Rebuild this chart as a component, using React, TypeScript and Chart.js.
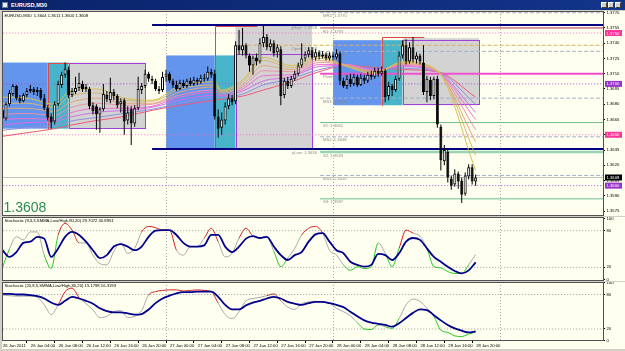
import React, { useEffect, useRef } from 'react';
import { Chart, registerables } from 'chart.js';

Chart.register(...registerables);

// ---------------- data ----------------
const symbolTitle = 'EURUSD,M30';
const firstBarIndex = 1; // bar 0 = 26 Jan 00:00, one bar = 30 min

const opens = [
  1.3674,1.3666,1.3680,1.3690,1.3698,1.3686,1.3683,1.3689,1.3693,1.3695,
  1.3692,1.3694,1.3686,1.3676,1.3668,1.3663,1.3680,1.3699,1.3709,1.3714,
  1.3689,1.3692,1.3696,1.3700,1.3695,1.3695,1.3679,1.3678,1.3670,1.3675,
  1.3689,1.3684,1.3692,1.3688,1.3680,1.3684,1.3664,1.3675,1.3661,1.3676,
  1.3694,1.3698,1.3710,1.3705,1.3703,1.3695,1.3694,
  1.3707,1.3710,1.3703,1.3699,1.3695,1.3701,1.3698,1.3703,1.3700,1.3704,
  1.3702,1.3706,1.3705,1.3712,1.3710,1.3668,1.3657,1.3664,1.3678,1.3686,
  1.3683,1.3738,1.3733,1.3738,1.3728,1.3718,1.3726,1.3722,1.3740,1.3746,
  1.3736,1.3740,1.3731,1.3734,1.3689,1.3703,1.3698,1.3705,1.3710,1.3718,
  1.3725,1.3729,1.3733,1.3726,1.3731,1.3727,1.3729,1.3725,
  1.3728,1.3726,1.3730,1.3703,1.3698,1.3705,1.3700,1.3707,1.3699,1.3706,
  1.3703,1.3709,1.3707,1.3713,1.3710,1.3713,1.3688,1.3698,1.3694,1.3705,
  1.3728,1.3738,1.3722,1.3736,1.3724,1.3728,1.3721,1.3692,1.3704,1.3688,
  1.3705,1.3658,1.3624,1.3633,1.3607,1.3601,1.3612,1.3605,1.3592,1.3609,
  1.3618,1.3604,
];
const highs = [
  1.3677,1.3682,1.3694,1.3700,1.3699,1.3689,1.3691,1.3696,1.3699,1.3697,
  1.3697,1.3696,1.3690,1.3679,1.3671,1.3683,1.3703,1.3712,1.3721,1.3717,
  1.3696,1.3707,1.3711,1.3703,1.3700,1.3697,1.3682,1.3680,1.3677,1.3700,
  1.3693,1.3706,1.3695,1.3690,1.3686,1.3686,1.3678,1.3678,1.3679,1.3707,
  1.3701,1.3714,1.3712,1.3708,1.3705,1.3698,1.3712,
  1.3714,1.3712,1.3705,1.3703,1.3704,1.3704,1.3705,1.3706,1.3707,1.3706,
  1.3709,1.3710,1.3717,1.3715,1.3714,1.3675,1.3672,1.3682,1.3690,1.3689,
  1.3742,1.3753,1.3755,1.3740,1.3730,1.3728,1.3730,1.3745,1.3758,1.3749,
  1.3744,1.3743,1.3739,1.3737,1.3706,1.3707,1.3708,1.3713,1.3721,1.3740,
  1.3732,1.3736,1.3736,1.3734,1.3733,1.3732,1.3731,1.3731,
  1.3731,1.3734,1.3732,1.3706,1.3709,1.3710,1.3710,1.3709,1.3710,1.3709,
  1.3712,1.3713,1.3716,1.3716,1.3717,1.3715,1.3702,1.3700,1.3708,1.3732,
  1.3743,1.3744,1.3741,1.3746,1.3731,1.3730,1.3738,1.3708,1.3707,1.3707,
  1.3708,1.3660,1.3640,1.3636,1.3610,1.3616,1.3614,1.3608,1.3613,1.3621,
  1.3621,1.3611,
];
const lows = [
  1.3662,1.3664,1.3678,1.3688,1.3684,1.3681,1.3682,1.3687,1.3691,1.3689,
  1.3688,1.3684,1.3674,1.3664,1.3656,1.3660,1.3678,1.3696,1.3706,1.3686,
  1.3687,1.3690,1.3693,1.3692,1.3692,1.3675,1.3670,1.3655,1.3652,1.3673,
  1.3682,1.3681,1.3684,1.3676,1.3672,1.3650,1.3660,1.3640,1.3658,1.3674,
  1.3690,1.3696,1.3702,1.3700,1.3693,1.3690,1.3692,
  1.3702,1.3701,1.3696,1.3693,1.3694,1.3696,1.3696,1.3698,1.3698,1.3699,
  1.3700,1.3702,1.3703,1.3706,1.3665,1.3647,1.3650,1.3660,1.3675,1.3679,
  1.3680,1.3729,1.3728,1.3725,1.3712,1.3709,1.3718,1.3720,1.3736,1.3733,
  1.3732,1.3727,1.3726,1.3679,1.3686,1.3695,1.3696,1.3703,1.3708,1.3716,
  1.3722,1.3726,1.3724,1.3723,1.3724,1.3725,1.3723,1.3723,
  1.3723,1.3724,1.3699,1.3696,1.3695,1.3697,1.3698,1.3697,1.3698,1.3700,
  1.3701,1.3704,1.3705,1.3707,1.3708,1.3682,1.3684,1.3688,1.3692,1.3703,
  1.3725,1.3719,1.3720,1.3721,1.3720,1.3719,1.3689,1.3682,1.3684,1.3685,
  1.3657,1.3615,1.3620,1.3603,1.3596,1.3599,1.3597,1.3583,1.3590,1.3606,
  1.3601,1.3600,
];
const closes = [
  1.3666,1.3680,1.3691,1.3698,1.3686,1.3683,1.3689,1.3693,1.3695,1.3692,
  1.3694,1.3686,1.3676,1.3667,1.3662,1.3680,1.3700,1.3709,1.3715,1.3689,
  1.3693,1.3696,1.3701,1.3695,1.3697,1.3678,1.3673,1.3670,1.3675,1.3690,
  1.3685,1.3692,1.3688,1.3679,1.3683,1.3663,1.3672,1.3661,1.3676,1.3695,
  1.3698,1.3710,1.3705,1.3703,1.3695,1.3693,1.3707,
  1.3710,1.3703,1.3699,1.3695,1.3701,1.3698,1.3703,1.3700,1.3704,1.3702,
  1.3706,1.3705,1.3712,1.3709,1.3668,1.3656,1.3665,1.3678,1.3686,1.3682,
  1.3738,1.3733,1.3738,1.3728,1.3718,1.3726,1.3722,1.3740,1.3746,1.3736,
  1.3740,1.3730,1.3736,1.3688,1.3703,1.3698,1.3705,1.3710,1.3718,1.3725,
  1.3729,1.3733,1.3726,1.3731,1.3727,1.3729,1.3725,1.3728,
  1.3726,1.3730,1.3703,1.3698,1.3705,1.3700,1.3707,1.3699,1.3706,1.3703,
  1.3709,1.3707,1.3713,1.3710,1.3713,1.3687,1.3698,1.3694,1.3705,1.3728,
  1.3738,1.3722,1.3736,1.3724,1.3728,1.3722,1.3692,1.3705,1.3688,1.3705,
  1.3660,1.3625,1.3635,1.3608,1.3600,1.3612,1.3604,1.3591,1.3610,1.3618,
  1.3604,1.3608,
];

const timeLabelBars = [0, 8, 16, 24, 32, 40, 48, 56, 64, 72, 80, 88, 96, 104, 112, 120, 128, 136];
const timeLabels = [
  '26 Jan 2011', '26 Jan 04:00', '26 Jan 08:00', '26 Jan 12:00', '26 Jan 16:00', '26 Jan 20:00',
  '27 Jan 00:00', '27 Jan 04:00', '27 Jan 08:00', '27 Jan 12:00', '27 Jan 16:00', '27 Jan 20:00',
  '28 Jan 00:00', '28 Jan 04:00', '28 Jan 08:00', '28 Jan 12:00', '28 Jan 16:00', '28 Jan 20:00',
];
const priceTicks = [1.3770, 1.3755, 1.3740, 1.3725, 1.3710, 1.3695, 1.3680, 1.3665, 1.3650, 1.3635, 1.3620, 1.3605, 1.3590, 1.3575];
const stochTicks = [0, 20, 80, 100];
const stochLevels = [20, 80];
const daySeparatorBars = [48, 96, 144];

// moving-average ribbon, fast -> slow, sampled at knots
const ribbonKnots = [0, 8, 16, 20, 28, 36, 44, 52, 62, 64, 70, 76, 84, 92, 100, 108, 116, 126, 137];
const ribbon0 = [1.3687,1.3686,1.3680,1.3692,1.3695,1.3686,1.3684,1.3698,1.3702,1.3694,1.3704,1.3726,1.3718,1.3727,1.3717,1.3710,1.3722,1.3713,1.3615];
const ribbon1 = [1.3681,1.3681,1.3677,1.3687,1.3691,1.3684,1.3683,1.3695,1.3699,1.3693,1.3702,1.3723,1.3716,1.3725,1.3718,1.3711,1.3721,1.3713,1.3630];
const ribbon2 = [1.3676,1.3676,1.3673,1.3681,1.3686,1.3681,1.3681,1.3692,1.3697,1.3692,1.3699,1.3718,1.3714,1.3723,1.3718,1.3712,1.3720,1.3712,1.3643];
const ribbon3 = [1.3670,1.3671,1.3669,1.3676,1.3681,1.3679,1.3680,1.3689,1.3694,1.3691,1.3697,1.3713,1.3712,1.3721,1.3719,1.3713,1.3719,1.3712,1.3655];
const ribbon4 = [1.3665,1.3666,1.3665,1.3671,1.3676,1.3676,1.3678,1.3687,1.3692,1.3689,1.3695,1.3708,1.3709,1.3719,1.3719,1.3713,1.3718,1.3712,1.3665];
const ribbon5 = [1.3659,1.3662,1.3663,1.3667,1.3672,1.3674,1.3677,1.3684,1.3689,1.3688,1.3693,1.3703,1.3707,1.3717,1.3718,1.3714,1.3717,1.3712,1.3672];
const ribbon6 = [1.3654,1.3657,1.3659,1.3663,1.3667,1.3671,1.3675,1.3681,1.3687,1.3687,1.3690,1.3699,1.3705,1.3714,1.3718,1.3715,1.3715,1.3712,1.3680];
const ribbon7 = [1.3648,1.3652,1.3656,1.3659,1.3664,1.3668,1.3674,1.3679,1.3684,1.3685,1.3688,1.3694,1.3702,1.3712,1.3718,1.3716,1.3714,1.3712,1.3687];

// stochastics, sampled every second bar starting at bar 1
const stochFirstBar = 1;
const stochStep = 2;
const stoch1Main = [20,50,70,65,78,78,40,18,73,92, 81,60,60,40,26,24,46,60,43,51, 78,87,85,81,81,48,40,54,54,68, 84,62,37,43,68,84,71,68,71,46, 21,35,51,73,84,87,76,48,40,24, 15,21,18,21,60,43,21,51,81,76, 71,51,21,19,13,10,10,24,41];
const stoch1Signal = [48,37,45,60,62,70,67,37,51,70, 78,73,62,48,35,40,54,58,54,48, 54,70,80,81,81,73,60,54,54,56, 73,73,54,45,54,67,71,68,70,54, 40,32,40,45,62,74,76,62,48,43, 29,24,21,24,42,40,32,43,62,68, 65,51,37,29,21,14,10,15,28];
const stoch2Main = [79,78,77,77,77,75,62,45,62,85, 91,75,64,53,40,42,50,52,40,42, 52,79,85,87,88,88,86,87,88,87, 85,65,45,38,50,69,73,75,78,81, 69,58,54,64,67,68,67,65,56,50, 43,31,20,19,27,24,21,38,62,72, 68,56,42,18,14,8,7,11,15];
const stoch2Signal = [81,81,80,80,79,77,73,66,62,69, 76,73,69,64,56,51,49,49,47,45, 46,54,65,73,78,82,84,84,85,85, 85,76,62,54,54,61,66,69,73,76, 73,67,64,62,65,67,67,65,62,58, 50,42,35,31,29,27,24,30,39,48, 54,53,44,35,27,21,17,14,16];
const stoch1Title = 'Stochastic (9,3,3,SMMA,Low/High,80,20)';
const stoch1Readout = [29.7072, 40.8951];
const stoch2Title = 'Stochastic (20,8,5,SMMA,Low/High,80,20)';
const stoch2Readout = [15.1798, 16.3193];

// levels
const pivotNames = ['MR2', 'R1', 'MR1', 'Pivot', 'MS1', 'S1', 'MS2', 'S2', 'MS3', 'S3'];
const pivotValues = [1.3770, 1.3755, 1.3732, 1.3710, 1.3686, 1.3662, 1.3648, 1.3633, 1.3610, 1.3587];
const rangeNames = ['yHigh', 'Open', 'yLow'];
const rangeValues = [1.3758, 1.3738, 1.3636];
const roundLevels = [1.3750, 1.3700, 1.3650, 1.3600];
const bidPrice = 1.3608;

// session boxes (bar index from/to, price high/low)
const boxFrom = [0, 14, 20, 48, 62, 68, 96, 110, 116];
const boxTo = [14, 20, 42, 62, 68, 90, 110, 116, 138];
const boxHigh = [1.3721, 1.3721, 1.3721, 1.3728, 1.3728, 1.3757, 1.3743, 1.3743, 1.3745];
const boxLow = [1.3656, 1.3656, 1.3656, 1.3636, 1.3636, 1.3636, 1.3679, 1.3679, 1.3679];
const outlineFrom = [20, 68, 116];
const outlineTo = [42, 90, 138];
const outlineHigh = [1.3721, 1.3729, 1.3743];
const outlineLow = [1.3656, 1.3636, 1.3679];
const redFrom = [14, 62, 110];
const redTo = [20, 74, 122];
const redHigh = [1.3721, 1.3757, 1.3746];
const redLow = [1.3656, 1.3636, 1.3679];

// ---------------- layout / style ----------------
const FONT = '"Liberation Sans", Arial, sans-serif';
const SMALL = 4.2;
const CREAM = '#FFFFF0';
const FRAME = '#D4D0C8';
const X_MIN = 1.147;
const X_MAX = 173.61;
const X_FROM = -10;
const X_END = 200;
const PIVOT_START = 92.3;
const RANGE_START = 44;
const OPEN_START = 68;
const PIVOT_LABEL_BAR = 93.1;
const RANGE_LABEL_BAR = 91.4;
const boxColors = ['#6495ED', '#48B4CA', '#D3D3D3'];
const ribbonLines = [ribbon0, ribbon1, ribbon2, ribbon3, ribbon4, ribbon5, ribbon6, ribbon7];
const ribbonColors = ['#D8C050', '#D4B870', '#E2A878', '#EE90A8', '#F070D0', '#D070E8', '#9090E0', '#F05878'];
const roundLineColors = ['#F070C8', '#A050D8', '#F070C8', '#A050D8'];
const roundBadgeColors = ['#FF3399', '#9933CC', '#FF3399', '#9933CC'];

const pivotStyle = (name: string) => {
  if (name.startsWith('M')) return { color: '#A4B0C8', width: 1, dash: [4, 2] };
  if (name === 'R1') return { color: '#B0304C', width: 1, dash: [] as number[] };
  if (name === 'Pivot') return { color: '#F050D0', width: 2, dash: [] as number[] };
  if (name === 'S2') return { color: '#98D4B0', width: 2.5, dash: [] as number[] };
  return { color: '#6DBB8C', width: 1, dash: [] as number[] };
};
const rangeStyle = (name: string) =>
  name === 'Open' ? { color: '#D8B060', width: 1, dash: [4, 2], from: OPEN_START } : { color: '#000080', width: 2, dash: [] as number[], from: RANGE_START };

const hLine = (price: number, from: number, color: string, width: number, dash: number[], order = 8) => ({
  type: 'line' as const,
  data: [{ x: from, y: price }, { x: X_END, y: price }],
  borderColor: color,
  borderWidth: width,
  borderDash: dash,
  pointRadius: 0,
  fill: false,
  tension: 0,
  order,
});

const rightAxis = (min: number, max: number, ticks: number[], fmt: (v: number) => string) => ({
  type: 'linear' as const,
  position: 'right' as const,
  min,
  max,
  beginAtZero: false,
  afterBuildTicks: (s: any) => { s.ticks = ticks.map((v) => ({ value: v })); },
  afterFit: (s: any) => { s.width = 22; s.paddingTop = 0; s.paddingBottom = 0; },
  ticks: { autoSkip: false, padding: 1.5, color: '#000', font: { size: SMALL, family: FONT }, callback: (v: any) => fmt(Number(v)) },
  grid: { display: true, drawOnChartArea: false, drawTicks: true, tickLength: 2, tickColor: '#000', color: '#000' },
  border: { display: false },
});

const xAxis = (show: boolean) => ({
  type: 'linear' as const,
  min: X_MIN,
  max: X_MAX,
  offset: false,
  display: show,
  afterBuildTicks: (s: any) => { s.ticks = timeLabelBars.map((v) => ({ value: v })); },
  afterFit: (s: any) => { s.height = show ? 8 : 0; s.paddingLeft = 0; s.paddingRight = 0; },
  ticks: {
    autoSkip: false, maxRotation: 0, minRotation: 0, align: 'start' as const, labelOffset: 4, padding: 0.5,
    color: '#000', font: { size: SMALL, family: FONT },
    callback: (v: any) => { const k = timeLabelBars.indexOf(Number(v)); return k >= 0 ? timeLabels[k] : ''; },
  },
  grid: { display: true, drawOnChartArea: false, drawTicks: true, tickLength: 2, tickColor: '#000', color: '#000' },
  border: { display: false },
});

function decoPlugin(kind: 'main' | 'stoch', title?: string) {
  return {
    id: 'deco',
    beforeDraw(chart: any) {
      const { ctx, width, height } = chart;
      ctx.save();
      ctx.fillStyle = CREAM;
      ctx.fillRect(0, 0, width, height);
      ctx.fillStyle = FRAME;
      ctx.fillRect(0, 0, 2, height);
      ctx.restore();
    },
    beforeDatasetsDraw(chart: any) {
      const { ctx, chartArea: a, scales } = chart;
      const xs = scales.x, ys = scales.y;
      ctx.save();
      ctx.beginPath();
      ctx.rect(a.left, a.top, a.right - a.left, a.bottom - a.top);
      ctx.clip();
      if (kind === 'main') {
        const R = (f: number, t: number, h: number, l: number) => {
          const x0 = xs.getPixelForValue(f), x1 = xs.getPixelForValue(t);
          const y0 = ys.getPixelForValue(h), y1 = ys.getPixelForValue(l);
          return [x0, y0, x1 - x0, y1 - y0];
        };
        boxFrom.forEach((f, k) => {
          const [x, y, w, h] = R(f, boxTo[k], boxHigh[k], boxLow[k]);
          ctx.fillStyle = boxColors[k % 3];
          ctx.fillRect(x, y, w, h);
        });
        ctx.lineWidth = 1;
        ctx.strokeStyle = '#A040D8';
        outlineFrom.forEach((f, k) => {
          const [x, y, w, h] = R(f, outlineTo[k], outlineHigh[k], outlineLow[k]);
          ctx.strokeRect(Math.round(x) + 0.5, Math.round(y) + 0.5, Math.round(w) - 1, Math.round(h) - 1);
        });
        ctx.strokeStyle = '#E04848';
        redFrom.forEach((f, k) => {
          const [x, y, w, h] = R(f, redTo[k], redHigh[k], redLow[k]);
          const X = Math.round(x) + 0.5, Y = Math.round(y) + 0.5;
          ctx.beginPath();
          ctx.moveTo(X, Y + h);
          ctx.lineTo(X, Y);
          ctx.lineTo(X + w, Y);
          ctx.stroke();
        });
        // level labels
        ctx.font = `${SMALL}px ${FONT}`;
        ctx.fillStyle = '#8C8C8C';
        ctx.textBaseline = 'top';
        ctx.textAlign = 'left';
        pivotNames.forEach((n, k) => {
          ctx.fillText(`${n}: ${pivotValues[k].toFixed(4)}`, xs.getPixelForValue(PIVOT_LABEL_BAR), ys.getPixelForValue(pivotValues[k]) + 1.3);
        });
        ctx.textAlign = 'right';
        rangeNames.forEach((n, k) => {
          ctx.fillText(`${n}: ${rangeValues[k].toFixed(4)}`, xs.getPixelForValue(RANGE_LABEL_BAR), ys.getPixelForValue(rangeValues[k]) + 1.3);
        });
      }
      ctx.strokeStyle = '#A8A8A8';
      ctx.lineWidth = 1;
      ctx.setLineDash([1, 2]);
      daySeparatorBars.forEach((b) => {
        const px = Math.round(xs.getPixelForValue(b)) + 0.5;
        ctx.beginPath();
        ctx.moveTo(px, a.top);
        ctx.lineTo(px, a.bottom);
        ctx.stroke();
      });
      ctx.restore();
    },
    afterDatasetsDraw(chart: any) {
      const { ctx, chartArea: a } = chart;
      ctx.save();
      ctx.font = `${SMALL}px ${FONT}`;
      ctx.fillStyle = '#000';
      ctx.textBaseline = 'top';
      ctx.textAlign = 'left';
      if (kind === 'main') {
        const n = closes.length - 1;
        const ohlc = [opens[n], highs[n], lows[n], closes[n]].map((v) => v.toFixed(4)).join(' ');
        ctx.fillText(`${symbolTitle}  ${ohlc}`, a.left + 1.5, a.top + 2.3);
        ctx.font = `14px ${FONT}`;
        ctx.fillStyle = '#2E8B57';
        ctx.textBaseline = 'alphabetic';
        ctx.fillText(bidPrice.toFixed(4), a.left + 0.5, a.bottom - 4);
      } else if (title) {
        ctx.fillText(title, a.left + 1.5, a.top + 2);
      }
      ctx.restore();
    },
    afterDraw(chart: any) {
      const { ctx, chartArea: a, scales } = chart;
      ctx.save();
      if (kind === 'main') {
        const ys = scales.y;
        const badge = (v: number, bg: string) => {
          const py = ys.getPixelForValue(v);
          ctx.fillStyle = bg;
          ctx.fillRect(a.right + 2, py - 3, 17, 6);
          ctx.fillStyle = '#FFF';
          ctx.font = `${SMALL}px ${FONT}`;
          ctx.textAlign = 'left';
          ctx.textBaseline = 'middle';
          ctx.fillText(v.toFixed(4), a.right + 3.5, py + 0.3);
        };
        roundLevels.forEach((v, k) => badge(v, roundBadgeColors[k]));
        badge(bidPrice, '#000');
      }
      ctx.strokeStyle = '#505050';
      ctx.lineWidth = 1;
      ctx.strokeRect(2.5, a.top + 0.5, a.right - 2, a.bottom - a.top - 1);
      ctx.restore();
    },
  };
}

const baseOptions = (yAxis: any, showTime: boolean) => ({
  animation: false as const,
  responsive: false,
  events: [] as any[],
  layout: { padding: { left: 3, right: 0, top: 0, bottom: 0 }, autoPadding: false },
  plugins: { legend: { display: false }, tooltip: { enabled: false } },
  scales: { x: xAxis(showTime), y: yAxis },
});

function mainConfig(): any {
  const bars = opens.map((_, k) => firstBarIndex + k);
  const datasets: any[] = [];
  roundLevels.forEach((v, k) => datasets.push(hLine(v, X_FROM, roundLineColors[k], 1, [1, 2], 9)));
  datasets.push(hLine(bidPrice, X_FROM, '#C4C4C4', 1, [], 9));
  pivotNames.forEach((n, k) => {
    const s = pivotStyle(n);
    datasets.push(hLine(pivotValues[k], PIVOT_START, s.color, s.width, s.dash, 8));
  });
  rangeNames.forEach((n, k) => {
    const s = rangeStyle(n);
    datasets.push(hLine(rangeValues[k], s.from, s.color, s.width, s.dash, 8));
  });
  ribbonLines.forEach((line, k) => {
    datasets.push({
      type: 'line',
      data: ribbonKnots.map((x, j) => ({ x, y: line[j] })),
      borderColor: ribbonColors[k],
      borderWidth: 1,
      pointRadius: 0,
      fill: false,
      cubicInterpolationMode: 'monotone',
      order: 5,
    });
  });
  datasets.push({
    type: 'bar',
    data: bars.map((x, k) => ({ x, y: [lows[k], highs[k]] })),
    backgroundColor: '#000',
    borderWidth: 0,
    barThickness: 1,
    maxBarThickness: 1,
    grouped: false,
    inflateAmount: 0,
    order: 2,
  });
  datasets.push({
    type: 'bar',
    data: bars.map((x, k) => ({ x, y: [opens[k], closes[k]] })),
    backgroundColor: bars.map((_, k) => (closes[k] >= opens[k] ? '#FFFFFF' : '#000000')),
    borderColor: '#000',
    borderWidth: 1,
    borderSkipped: false,
    barThickness: 3,
    maxBarThickness: 3,
    grouped: false,
    inflateAmount: 0,
    minBarLength: 1,
    order: 1,
  });
  return {
    type: 'bar',
    data: { datasets },
    options: baseOptions(rightAxis(1.357015, 1.377167, priceTicks, (v) => v.toFixed(4)), false),
    plugins: [decoPlugin('main')],
  };
}

const segColor = (c: any) => {
  const a = c.p0.parsed.y, b = c.p1.parsed.y;
  if (Math.max(a, b) >= 80) return '#D42020';
  if (Math.min(a, b) <= 21) return '#22CC22';
  return undefined;
};

function stochConfig(main: number[], signal: number[], title: string, readout: number[], yMin: number, yMax: number, showTime: boolean): any {
  const pts = (arr: number[]) => arr.map((v, k) => ({ x: stochFirstBar + stochStep * k, y: v }));
  const datasets: any[] = stochLevels.map((v) => hLine(v, X_FROM, '#9A9A9A', 1, [1, 2], 9));
  datasets.push({
    type: 'line', data: pts(main), borderColor: '#A8A8A8', borderWidth: 1, pointRadius: 0, fill: false,
    cubicInterpolationMode: 'monotone', segment: { borderColor: segColor }, order: 2,
  });
  datasets.push({
    type: 'line', data: pts(signal), borderColor: '#00008B', borderWidth: 1.8, pointRadius: 0, fill: false,
    cubicInterpolationMode: 'monotone', order: 1,
  });
  return {
    type: 'line',
    data: { datasets },
    options: baseOptions(rightAxis(yMin, yMax, stochTicks, (v) => String(v)), showTime),
    plugins: [decoPlugin('stoch', `${title} ${readout.map((v) => v.toFixed(4)).join(' ')}`)],
  };
}

export default function App() {
  const mainRef = useRef<HTMLCanvasElement>(null);
  const s1Ref = useRef<HTMLCanvasElement>(null);
  const s2Ref = useRef<HTMLCanvasElement>(null);

  useEffect(() => {
    document.body.style.margin = '0';
    const charts = [
      new Chart(mainRef.current as HTMLCanvasElement, mainConfig()),
      new Chart(s1Ref.current as HTMLCanvasElement, stochConfig(stoch1Main, stoch1Signal, stoch1Title, stoch1Readout, -2.46, 102.46, false)),
      new Chart(s2Ref.current as HTMLCanvasElement, stochConfig(stoch2Main, stoch2Signal, stoch2Title, stoch2Readout, -0.87, 101.7, true)),
    ];
    return () => charts.forEach((c) => c.destroy());
  }, []);

  const btn = (left: number) => (
    <div style={{ position: 'absolute', left, top: 1.5, width: 6, height: 6, background: '#D4D0C8', boxSizing: 'border-box', border: '1px solid', borderColor: '#FFF #404040 #404040 #FFF' }} />
  );

  return (
    <div style={{ position: 'fixed', left: 0, top: 0, width: 625, height: 351, background: FRAME, overflow: 'hidden', fontFamily: FONT }}>
      <div style={{ position: 'absolute', left: 0, top: 0, width: 625, height: 10, background: 'linear-gradient(90deg, #0A246A 0%, #12348A 100%)' }}>
        <div style={{ position: 'absolute', left: 2, top: 1.5, width: 6, height: 6, background: '#E8EEF6', boxSizing: 'border-box', border: '1px solid #6A7A9A' }} />
        <div style={{ position: 'absolute', left: 11, top: 0, height: 10, lineHeight: '10px', color: '#FFF', fontSize: 5.6, fontWeight: 'bold', whiteSpace: 'nowrap' }}>{symbolTitle}</div>
        {btn(601)}
        {btn(608)}
        {btn(615)}
      </div>
      <canvas ref={mainRef} width={625} height={205} style={{ position: 'absolute', left: 0, top: 11, width: 625, height: 205 }} />
      <canvas ref={s1Ref} width={625} height={64} style={{ position: 'absolute', left: 0, top: 217, width: 625, height: 64 }} />
      <canvas ref={s2Ref} width={625} height={67} style={{ position: 'absolute', left: 0, top: 282, width: 625, height: 67 }} />
    </div>
  );
}
